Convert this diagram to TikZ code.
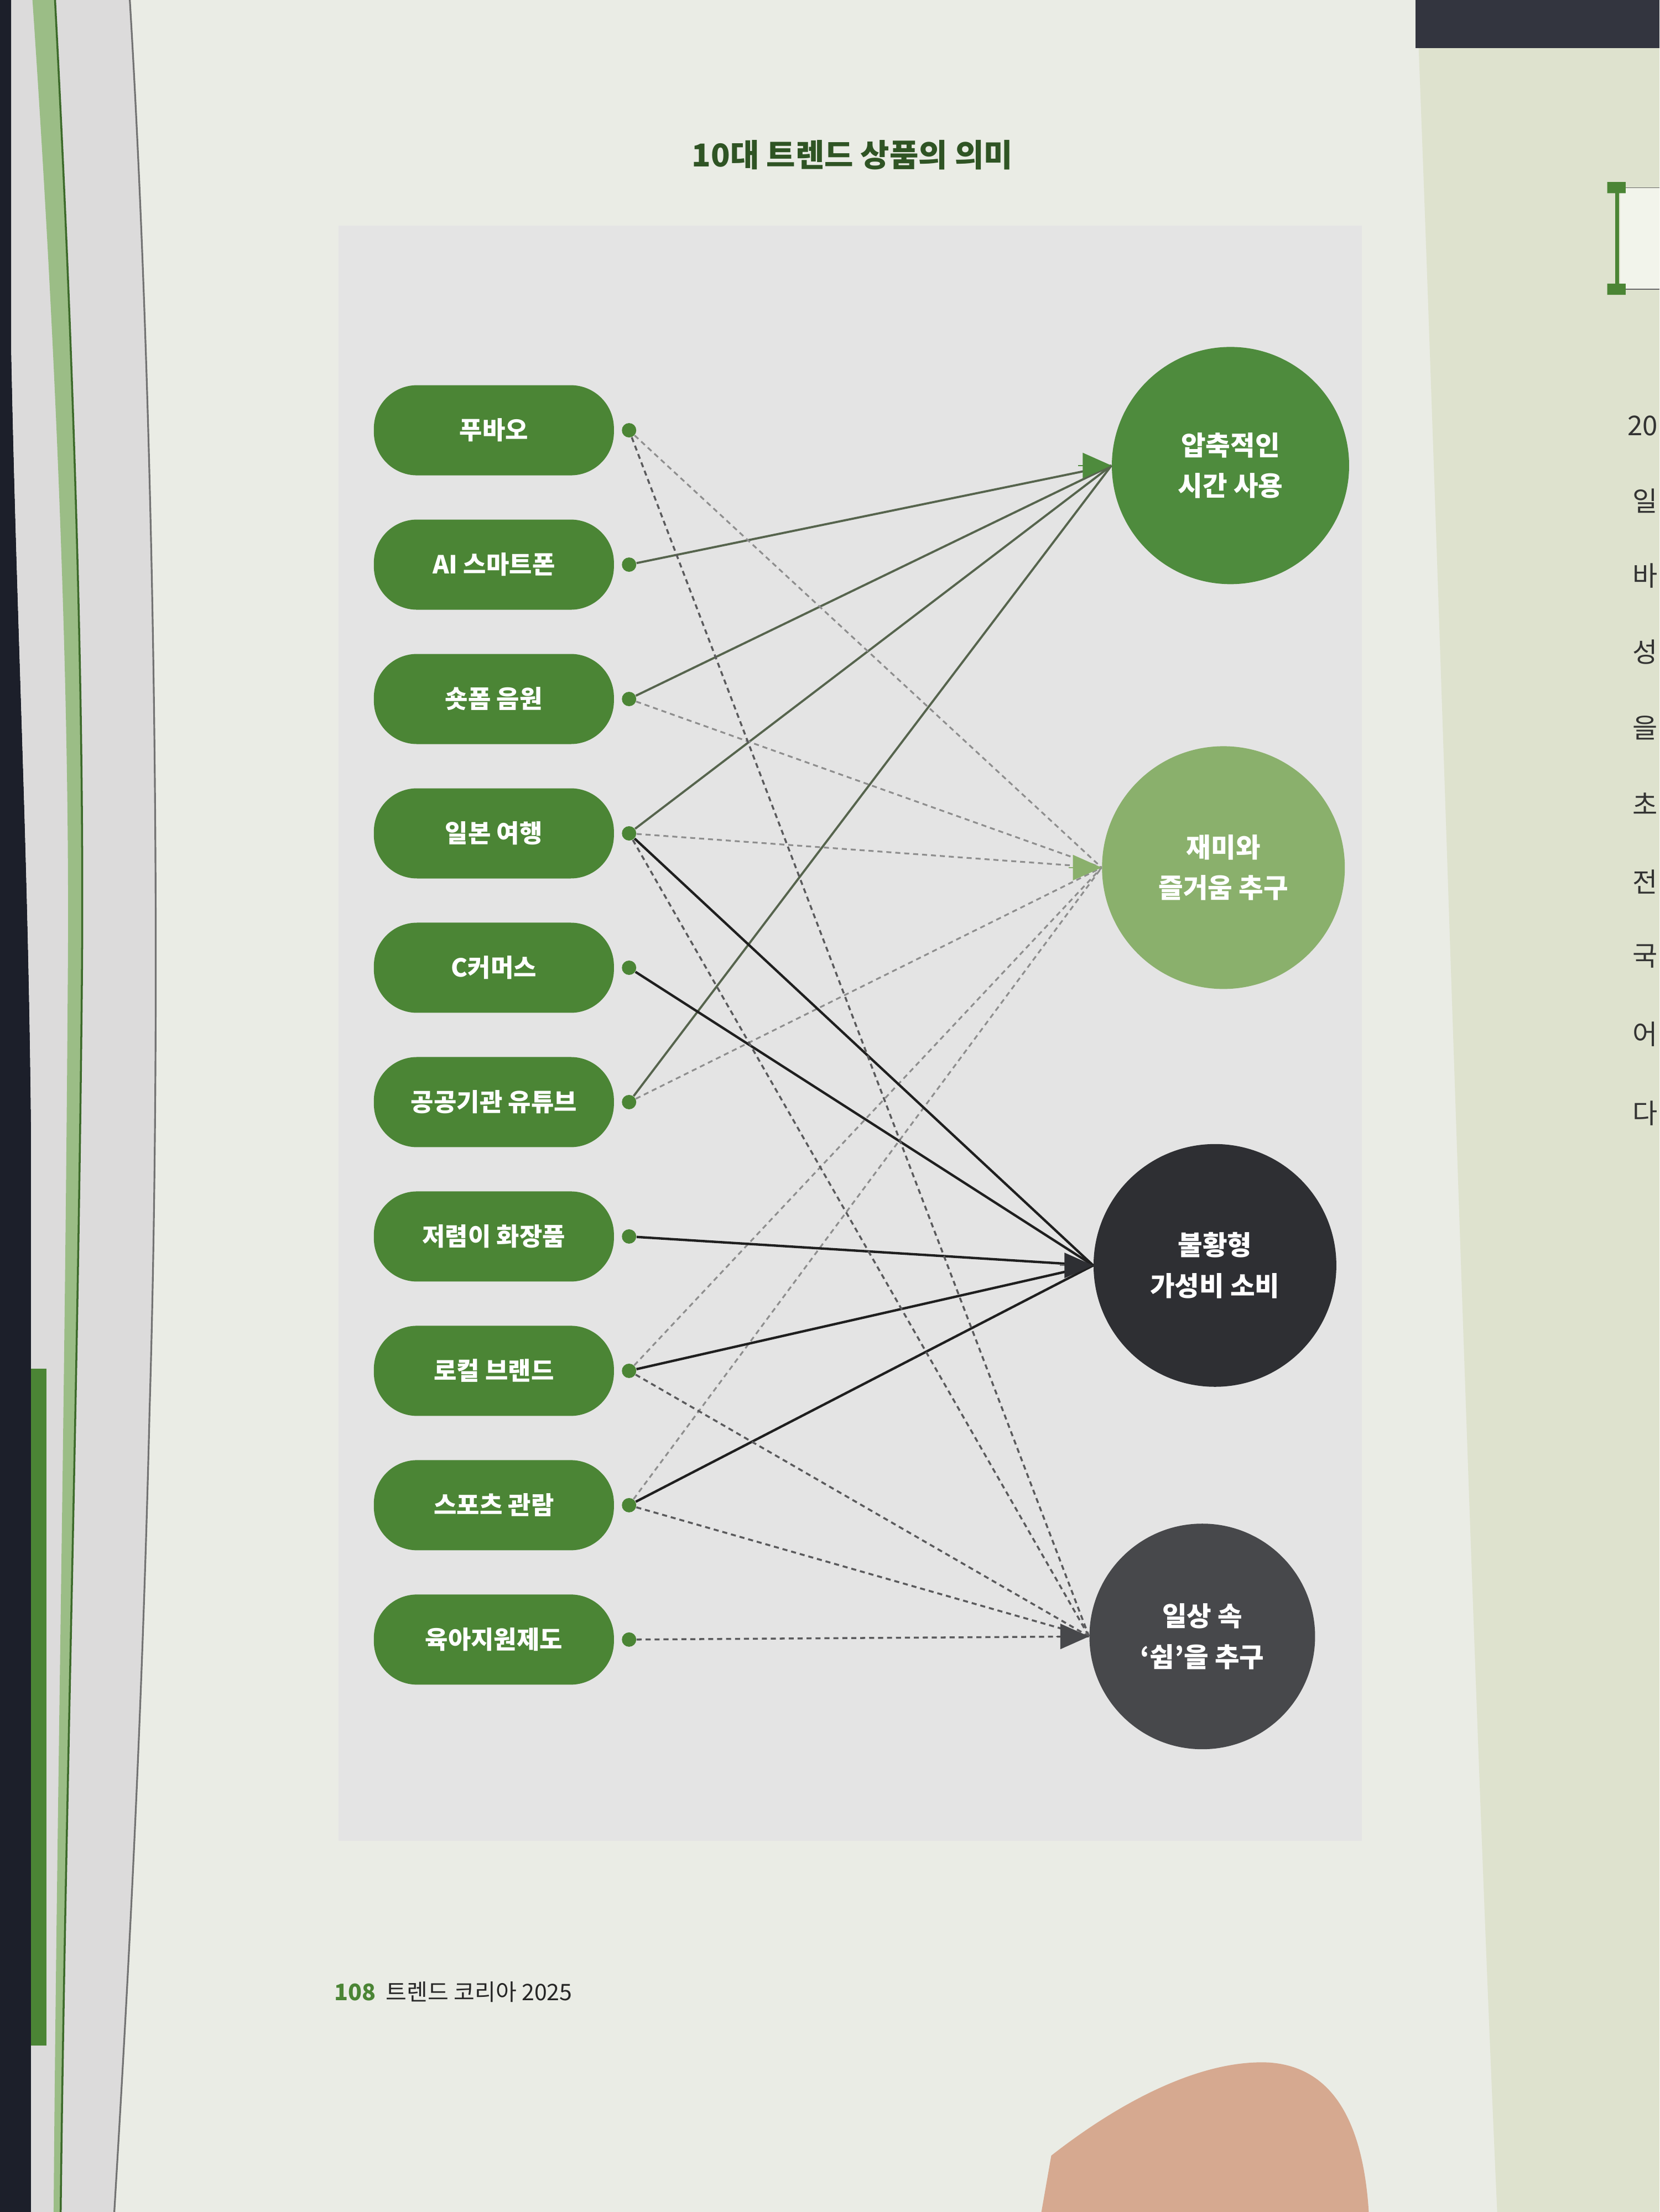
\documentclass[tikz,border=0pt]{standalone}
\usepackage{fontspec}
\setmainfont{Noto Sans CJK KR}
\usetikzlibrary{arrows.meta,positioning}

\definecolor{pagebg}{HTML}{EAECE5}
\definecolor{panelbg}{HTML}{E4E4E4}
\definecolor{stackbg}{HTML}{DCDBDB}
\definecolor{darkbg}{HTML}{1C1F2A}
\definecolor{rightpage}{HTML}{DEE2CE}
\definecolor{stripgreen}{HTML}{9BBD86}
\definecolor{boxgreen}{HTML}{4B8535}
\definecolor{titlegreen}{HTML}{2F5424}
\definecolor{timegreen}{HTML}{4E8B3D}
\definecolor{fungreen}{HTML}{8AB06C}
\definecolor{valuedark}{HTML}{2E2F33}
\definecolor{restgray}{HTML}{47484B}
\definecolor{timeline}{HTML}{56644D}
\definecolor{funline}{HTML}{8E8E8E}
\definecolor{restline}{HTML}{5A5A5C}
\definecolor{skin}{HTML}{D6A990}

\begin{document}
\begin{tikzpicture}[x=0.02551cm,y=-0.02551cm,node distance=2.43cm]
      \useasboundingbox (0,0) rectangle (1176,1568);
      % page and book edges
      \fill[pagebg] (0,0) rectangle (1176,1568);
      \fill[darkbg] (0,0) -- (8,0) -- (8,250) .. controls (12,450) and (20,600) .. (22,800)
        -- (22,1568) -- (0,1568) -- cycle;
      \fill[stackbg] (8,0) -- (92,0) .. controls (110,300) and (115,700) .. (106,1000)
        .. controls (100,1250) and (88,1450) .. (81,1568) -- (22,1568) -- (22,800)
        .. controls (20,600) and (12,450) .. (8,250) -- cycle;
      \draw[black!55,line width=0.9pt] (92,0) .. controls (110,300) and (115,700) .. (106,1000)
        .. controls (100,1250) and (88,1450) .. (81,1568);
      \fill[stripgreen] (23,0) .. controls (40,250) and (50,500) .. (48,700)
        .. controls (46,1000) and (40,1300) .. (38,1568) -- (43,1568)
        .. controls (46,1300) and (55,1000) .. (58,700) .. controls (60,500) and (52,250) .. (39,0) -- cycle;
      \draw[boxgreen!80!black,line width=1pt] (39,0) .. controls (52,250) and (60,500) .. (58,700)
        .. controls (55,1000) and (46,1300) .. (43,1568);
      \fill[boxgreen] (22,970) rectangle (33,1450);
      \fill[rightpage] (1004,0) .. controls (1020,400) and (1040,1100) .. (1061,1568) -- (1176,1568) -- (1176,0) -- cycle;
      \fill[darkbg!90] (1003,0) rectangle (1176,34);
      \fill[skin] (738,1568) -- (745,1528) .. controls (800,1485) and (855,1460) .. (899,1462)
        .. controls (945,1465) and (966,1505) .. (970,1568) -- cycle;
      \fill[panelbg] (240,160) rectangle (965,1305);

      % next page, at the edge
      \fill[white!60!rightpage] (1148,133) rectangle (1176,205);
      \draw[black!60,line width=0.4pt] (1148,133) -- (1176,133) (1148,205) -- (1176,205);
      \draw[boxgreen,line width=2pt] (1146,133) -- (1146,205);
      \fill[boxgreen] (1139,129) rectangle (1152,137) (1139,201) rectangle (1152,209);
      \begin{scope}[every node/.style={anchor=east,inner sep=0pt,text=black!80,font=\fontsize{14}{16}\selectfont}]
        \node (p1) at (1175,302) {20};
        \node (p2) at (1175,355) {일};
        \node (p3) at (1175,408) {바};
        \node (p4) at (1175,462) {성};
        \node (p5) at (1175,516) {을};
        \node (p6) at (1175,570) {초};
        \node (p7) at (1175,625) {전};
        \node (p8) at (1175,678) {국};
        \node (p9) at (1175,733) {어};
        \node (p10) at (1175,789) {다};
      \end{scope}

      \node[font=\bfseries\fontsize{16.2}{19}\selectfont, text=titlegreen] (title) at (604,110) {10대 트렌드 상품의 의미};
      \node[anchor=west, font=\fontsize{11.7}{14}\selectfont, text=black!85] (folio) at (232,1412)
        {\textcolor{boxgreen}{\bfseries 108}\ \ 트렌드 코리아 2025};

      \begin{scope}[every node/.style={rounded corners=0.78cm,fill=boxgreen,text=white,
          minimum width=4.34cm,minimum height=1.63cm,font=\bfseries\fontsize{12.8}{15}\selectfont}]
        \node (fubao) at (350,305) {푸바오};
        \node (aiphone) [below of= fubao] {AI 스마트폰};
        \node (shortform) [below of= aiphone] {숏폼 음원};
        \node (japan) [below of= shortform] {일본 여행};
        \node (ccommerce) [below of= japan] {C커머스};
        \node (tube) [below of= ccommerce] {공공기관 유튜브};
        \node (cosme) [below of= tube] {저렴이 화장품};
        \node (local) [below of= cosme] {로컬 브랜드};
        \node (sports) [below of= local] {스포츠 관람};
        \node (childcare) [below of= sports] {육아지원제도};
      \end{scope}
      \begin{scope}[every node/.style={circle,fill=boxgreen,inner sep=0pt,minimum size=0.26cm}]
        \node (fubao-d) [right=0.13cm of fubao] {};
        \node (aiphone-d) [right=0.13cm of aiphone] {};
        \node (shortform-d) [right=0.13cm of shortform] {};
        \node (japan-d) [right=0.13cm of japan] {};
        \node (ccommerce-d) [right=0.13cm of ccommerce] {};
        \node (tube-d) [right=0.13cm of tube] {};
        \node (cosme-d) [right=0.13cm of cosme] {};
        \node (local-d) [right=0.13cm of local] {};
        \node (sports-d) [right=0.13cm of sports] {};
        \node (childcare-d) [right=0.13cm of childcare] {};
      \end{scope}
      \begin{scope}[every node/.style={circle,text=white,align=center,
          font=\bfseries\fontsize{13.8}{21}\selectfont}]
        \node[fill=timegreen,minimum size=4.29cm] (compress) at (872,330) {압축적인\\시간 사용};
        \node[fill=fungreen,minimum size=4.39cm] (fun) at (867,615) {재미와\\즐거움 추구};
        \node[fill=valuedark,minimum size=4.39cm] (value) at (861,897) {불황형\\가성비 소비};
        \node[fill=restgray,minimum size=4.08cm] (rest) at (852,1160) {일상 속\\‘쉼’을 추구};
      \end{scope}

      \begin{scope}[every edge/.style={draw=timeline,line width=1.1pt}]
        \path (aiphone-d) edge (compress.west);
        \path (shortform-d) edge (compress.west);
        \path (japan-d) edge (compress.west);
        \path (tube-d) edge (compress.west);
      \end{scope}
      \begin{scope}[every edge/.style={draw=funline,line width=0.9pt,dash pattern=on 2.6pt off 2pt}]
        \path (fubao-d) edge (fun.west);
        \path (shortform-d) edge (fun.west);
        \path (japan-d) edge (fun.west);
        \path (tube-d) edge (fun.west);
        \path (local-d) edge (fun.west);
        \path (sports-d) edge (fun.west);
      \end{scope}
      \begin{scope}[every edge/.style={draw=black!88,line width=1.25pt}]
        \path (japan-d) edge (value.west);
        \path (ccommerce-d) edge (value.west);
        \path (cosme-d) edge (value.west);
        \path (local-d) edge (value.west);
        \path (sports-d) edge (value.west);
      \end{scope}
      \begin{scope}[every edge/.style={draw=restline,line width=1pt,dash pattern=on 2.6pt off 2pt}]
        \path (fubao-d) edge (rest.west);
        \path (japan-d) edge (rest.west);
        \path (local-d) edge (rest.west);
        \path (sports-d) edge (rest.west);
        \path (childcare-d) edge (rest.west);
      \end{scope}

      % arrow heads
      \draw[-{Triangle[length=0.52cm,width=0.46cm]},timegreen] ([xshift=-0.6cm]compress.west) -- (compress.west);
      \draw[-{Triangle[length=0.52cm,width=0.46cm]},fungreen] ([xshift=-0.6cm]fun.west) -- (fun.west);
      \draw[-{Triangle[length=0.52cm,width=0.46cm]},valuedark] ([xshift=-0.6cm]value.west) -- (value.west);
      \draw[-{Triangle[length=0.52cm,width=0.46cm]},restgray] ([xshift=-0.6cm]rest.west) -- (rest.west);
    \end{tikzpicture}
\end{document}
